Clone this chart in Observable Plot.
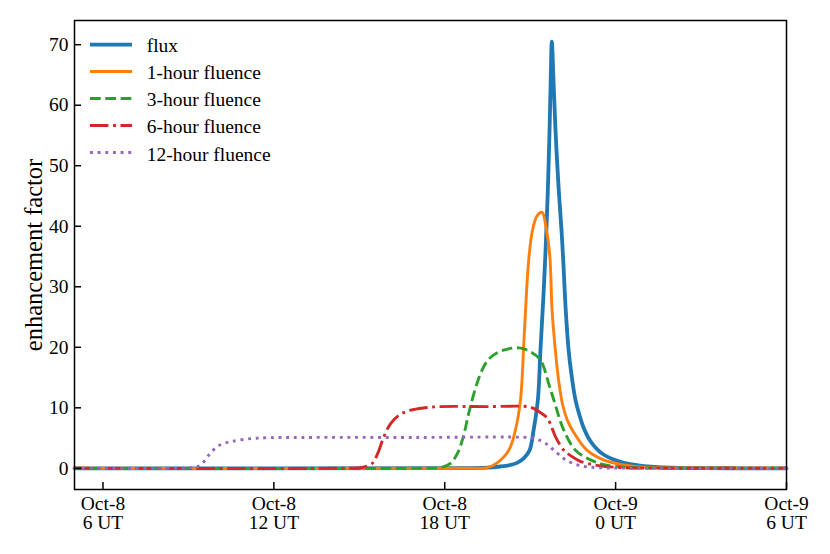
<!DOCTYPE html>
<html><head><meta charset="utf-8">
<script src="https://cdn.jsdelivr.net/npm/d3@7"></script>
<script src="https://cdn.jsdelivr.net/npm/@observablehq/plot@0.6"></script>
<style>
body{margin:0;background:#fff;}
#wrap{position:relative;width:830px;height:554px;overflow:hidden;}
#legend{position:absolute;left:90px;top:30.8px;font-family:'Liberation Serif',serif;font-size:19.5px;color:#000;}
.row{position:absolute;left:0;height:27.1px;width:300px;}
.row svg{position:absolute;left:0;top:0;}
.row span{position:absolute;left:56.7px;top:1.4px;line-height:27.1px;white-space:nowrap;}
</style></head><body><div id="wrap"></div>
<script>
// hours since Oct-8 0 UT, enhancement factor
const flux = [[5,0],[18,0.02],[19.5,0.1],[19.96,0.3],[20.30,0.55],[20.54,0.9],[20.78,1.7],[20.98,3.0],[21.12,6.3],[21.27,11.3],[21.36,19.5],[21.46,28],[21.54,36],[21.62,46],[21.68,55.8],[21.72,64],[21.76,70.5],[21.82,64],[21.89,55.8],[21.99,47],[22.10,39.3],[22.16,34.4],[22.25,26],[22.35,19.5],[22.45,15.5],[22.59,11.3],[22.73,8.8],[22.87,6.8],[23.10,4.6],[23.36,3.1],[23.60,2.2],[23.93,1.45],[24.25,0.95],[24.63,0.6],[25.0,0.38],[25.5,0.2],[26.2,0.09],[27,0.04],[28,0.015],[30,0]];
const fluence1h = [[5,0],[19.0,0.02],[19.49,0.1],[19.84,0.9],[20.25,3.0],[20.48,6.3],[20.66,11.3],[20.78,21],[20.87,29],[20.96,35],[21.08,39.3],[21.25,41.8],[21.42,42.3],[21.55,40],[21.69,35],[21.77,26],[21.89,19.2],[22.0,14.5],[22.14,10.5],[22.30,8.0],[22.52,6.0],[22.99,3.0],[23.57,1.4],[24.28,0.55],[25,0.2],[26.5,0.05],[30,0]];
const fluence3h = [[5,0],[17.5,0.02],[17.85,0.1],[18.20,0.8],[18.45,2.5],[18.65,5.2],[18.90,10.2],[19.26,15.7],[19.52,17.9],[19.84,19.1],[20.2,19.7],[20.61,19.9],[21.0,19.3],[21.36,17.9],[21.65,14],[21.83,11.3],[22.18,6.3],[22.59,3.0],[23.12,1.4],[23.64,0.55],[24.5,0.15],[26,0.03],[30,0]];
const fluence6h = [[5,0],[14.6,0.02],[15.04,0.1],[15.45,0.8],[15.65,2.5],[15.86,5.2],[16.10,7.4],[16.40,8.8],[16.80,9.6],[17.3,10.0],[17.85,10.2],[19.5,10.2],[20.90,10.2],[21.12,9.9],[21.36,9.2],[21.60,8.3],[21.77,6.6],[21.89,5.2],[22.18,3.0],[22.45,2.0],[22.74,1.2],[23.40,0.45],[24.3,0.1],[26,0.02],[30,0]];
const fluence12h = [[5,0],[8.8,0.02],[9.10,0.1],[9.42,0.5],[9.72,2.2],[10.01,3.6],[10.30,4.2],[10.58,4.5],[11.18,4.9],[11.77,5.05],[13,5.1],[17,5.1],[20.90,5.1],[21.15,4.95],[21.36,4.6],[21.58,4.0],[21.78,3.2],[22.0,2.3],[22.25,1.4],[22.7,0.5],[23.4,0.1],[24.5,0.02],[30,0]];

const seriesNames = ["flux","1-hour fluence","3-hour fluence","6-hour fluence","12-hour fluence"];
const seriesData = [flux, fluence1h, fluence3h, fluence6h, fluence12h];
const colors = ["#1f77b4","#ff7f0e","#2ca02c","#d62728","#9467bd"];
const widths = [3.8, 2.9, 2.9, 2.9, 2.9];
const dashes = [null, null, "10.7,4.6", "18.4,4.6,2.9,4.6", "2.9,4.75"];

const xTicks = [6, 12, 18, 24, 30];
const xTickLabels = ["Oct-8\n6 UT","Oct-8\n12 UT","Oct-8\n18 UT","Oct-9\n0 UT","Oct-9\n6 UT"];
const yTicks = [0,10,20,30,40,50,60,70];
const yLabel = "enhancement factor";

const font = "'Liberation Serif', serif";

const lineMarks = seriesData.map((d, i) => Plot.line(d, {
  x: p => p[0], y: p => p[1],
  stroke: colors[i], strokeWidth: widths[i],
  strokeDasharray: dashes[i] || undefined,
  strokeLinecap: dashes[i] ? "butt" : "round",
  strokeLinejoin: "round",
  curve: "catmull-rom"
}));

const chart = Plot.plot({
  width: 830, height: 554,
  marginLeft: 74, marginRight: 44, marginTop: 20, marginBottom: 65,
  style: {fontFamily: font, fontSize: "19.5px", color: "#000", background: "#fff"},
  x: {domain: [5, 30]},
  y: {domain: [-3.5, 74]},
  marks: [
    ...lineMarks,
    Plot.frame({stroke: "#000", strokeWidth: 1.5}),
    Plot.axisX({ticks: xTicks, tickFormat: d => xTickLabels[xTicks.indexOf(d)], tickSize: -7, tickPadding: 13.5, strokeWidth: 1.5, fontSize: 19.5, lineHeight: 0.98, label: null}),
    Plot.axisY({ticks: yTicks, tickSize: -7, tickPadding: 13, strokeWidth: 1.5, fontSize: 19.5, label: null}),
    Plot.text([yLabel], {text: d => d, frameAnchor: "left", dx: -40, rotate: -90, fontSize: 24.5, textAnchor: "middle", lineAnchor: "middle"})
  ]
});

const wrap = document.getElementById("wrap");
wrap.appendChild(chart);

const legend = document.createElement("div");
legend.id = "legend";
seriesNames.forEach((name, i) => {
  const row = document.createElement("div");
  row.className = "row";
  row.style.top = (i * 27.1) + "px";
  const dash = dashes[i] ? `stroke-dasharray="${dashes[i]}"` : "";
  row.innerHTML = `<svg width="44" height="27.1"><line x1="0" x2="42" y1="13.55" y2="13.55" stroke="${colors[i]}" stroke-width="${widths[i]}" ${dash}/></svg><span>${name}</span>`;
  legend.appendChild(row);
});
wrap.appendChild(legend);
</script></body></html>
